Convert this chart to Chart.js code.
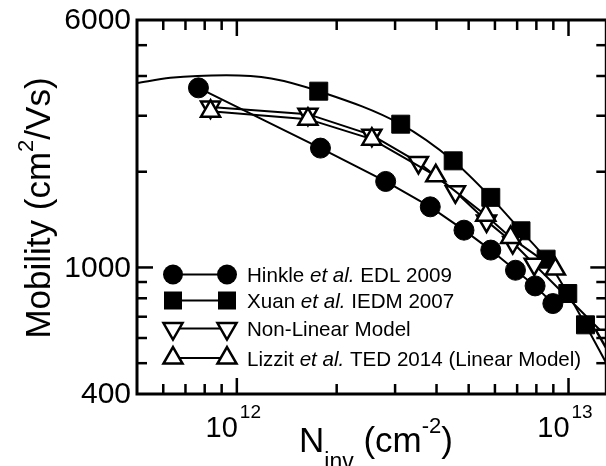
<!DOCTYPE html>
<html>
<head>
<meta charset="utf-8">
<script src="https://cdn.jsdelivr.net/npm/chart.js@4.4.1/dist/chart.umd.min.js"></script>
<style>
  html, body { margin: 0; padding: 0; background: #fff; overflow: hidden; }
  #wrap { width: 606px; height: 466px; overflow: hidden; }
</style>
</head>
<body>
<div id="wrap"><canvas id="mobChart" width="620" height="466"></canvas></div>
<script>
// Hinkle et al. EDL 2009 (filled circles)
const hinkleX = [7.66e11, 1.787e12, 2.81e12, 3.83e12, 4.84e12, 5.83e12, 6.92e12, 7.93e12, 8.97e12];
const hinkleY = [3671, 2373, 1864, 1551, 1310, 1134, 980, 875, 770];

// Xuan et al. IEDM 2007 (filled squares) and the smooth curve drawn through them
const xuanX = [1.766e12, 3.12e12, 4.49e12, 5.83e12, 7.19e12, 8.56e12, 9.95e12, 1.125e13];
const xuanY = [3584, 2822, 2164, 1661, 1304, 1062, 828, 660];
const xuanCurveX = [5.0e11, 6.3e11, 9.3e11, 1.27e12, 1.766e12, 3.12e12, 4.49e12, 5.83e12, 7.19e12, 8.56e12, 9.95e12, 1.125e13, 1.3e13];
const xuanCurveY = [3800, 3947, 4024, 3930, 3584, 2822, 2164, 1661, 1304, 1062, 828, 660, 500];

// Non-Linear Model (open down triangles)
const nonLinX = [8.33e11, 1.638e12, 2.553e12, 3.527e12, 4.56e12, 5.66e12, 6.79e12, 7.88e12, 1.29e13];
const nonLinY = [3193, 3034, 2606, 2139, 1729, 1401, 1198, 1024, 612];

// Lizzit et al. TED 2014, linear model (open up triangles)
const lizzitX = [8.33e11, 1.638e12, 2.553e12, 3.98e12, 5.63e12, 6.69e12, 9.13e12];
const lizzitY = [3101, 2927, 2532, 1941, 1460, 1243, 988];

// axis labels
const xLabelExps = [12, 13];
const yLabelVals = [400, 1000, 6000];

const FONT = '"Liberation Sans", Arial, Helvetica, sans-serif';

function toPoints(xs, ys) {
  return xs.map((x, i) => ({ x: x, y: ys[i] }));
}

// draw a list of text runs ({t, size, style, dy}) starting at x
function drawRuns(ctx, runs, x, y, align) {
  let total = 0;
  runs.forEach((r) => {
    ctx.font = (r.style || "") + " " + r.size + "px " + FONT;
    r.w = ctx.measureText(r.t).width;
    total += r.w;
  });
  let cx = x;
  if (align === "center") cx = x - total / 2;
  if (align === "right") cx = x - total;
  ctx.textAlign = "left";
  ctx.textBaseline = "alphabetic";
  runs.forEach((r) => {
    ctx.font = (r.style || "") + " " + r.size + "px " + FONT;
    ctx.fillText(r.t, cx, y + (r.dy || 0));
    cx += r.w;
  });
}

function drawMarker(ctx, kind, x, y) {
  ctx.save();
  ctx.lineWidth = 2.5;
  ctx.strokeStyle = "#000";
  ctx.beginPath();
  if (kind === "circle") {
    ctx.arc(x, y, 10, 0, Math.PI * 2);
    ctx.fillStyle = "#000";
    ctx.fill();
  } else if (kind === "square") {
    ctx.rect(x - 9, y - 9, 18, 18);
    ctx.fillStyle = "#000";
    ctx.fill();
  } else {
    const r = 11;
    const rot = kind === "down" ? Math.PI : 0;
    for (let k = 0; k < 3; k++) {
      const a = rot + (k * 2 * Math.PI) / 3;
      const px = x + Math.sin(a) * r;
      const py = y - Math.cos(a) * r;
      if (k === 0) ctx.moveTo(px, py);
      else ctx.lineTo(px, py);
    }
    ctx.closePath();
    ctx.fillStyle = "#fff";
    ctx.fill();
    ctx.stroke();
  }
  ctx.restore();
}

// frame, inward ticks on all four sides, tick labels, axis titles and the legend
const framePlugin = {
  id: "frame",
  afterDraw(chart) {
    const ctx = chart.ctx;
    const area = chart.chartArea;
    const xs = chart.scales.x;
    const ys = chart.scales.y;
    ctx.save();
    ctx.strokeStyle = "#000";
    ctx.fillStyle = "#000";
    ctx.lineWidth = 3;
    ctx.strokeRect(area.left, area.top, area.right - area.left, area.bottom - area.top);

    ctx.lineWidth = 2.5;
    const tick = (x1, y1, x2, y2) => {
      ctx.beginPath();
      ctx.moveTo(x1, y1);
      ctx.lineTo(x2, y2);
      ctx.stroke();
    };
    // x ticks
    for (let dec = 11; dec <= 13; dec++) {
      for (let m = 1; m <= 9; m++) {
        const v = m * Math.pow(10, dec);
        if (v <= xs.min || v >= xs.max) continue;
        const px = xs.getPixelForValue(v);
        const len = m === 1 ? 16 : 10;
        tick(px, area.bottom, px, area.bottom - len);
        tick(px, area.top, px, area.top + len);
      }
    }
    // y ticks
    for (let dec = 2; dec <= 3; dec++) {
      for (let m = 1; m <= 9; m++) {
        const v = m * Math.pow(10, dec);
        if (v <= ys.min || v >= ys.max) continue;
        const py = ys.getPixelForValue(v);
        const len = m === 1 ? 16 : 10;
        tick(area.left, py, area.left + len, py);
        tick(area.right, py, area.right - len, py);
      }
    }

    // y tick labels
    ctx.font = "30px " + FONT;
    ctx.textAlign = "right";
    ctx.textBaseline = "middle";
    yLabelVals.forEach((v) => {
      ctx.fillText(String(v), area.left - 6, ys.getPixelForValue(v) + 1);
    });

    // x tick labels as powers of ten
    xLabelExps.forEach((e) => {
      const px = xs.getPixelForValue(Math.pow(10, e));
      ctx.textBaseline = "alphabetic";
      ctx.font = "29px " + FONT;
      ctx.textAlign = "right";
      ctx.fillText("10", px + 1, 437);
      ctx.font = "19px " + FONT;
      ctx.textAlign = "left";
      ctx.fillText(String(e), px + 3, 418);
    });

    // x title
    drawRuns(ctx, [
      { t: "N", size: 35 },
      { t: "inv", size: 23, dy: 17 },
      { t: " (cm", size: 35 },
      { t: "-2", size: 22, dy: -19 },
      { t: ")", size: 35 },
    ], 299, 452, "left");

    // y title
    ctx.save();
    ctx.translate(50, 208);
    ctx.rotate(-Math.PI / 2);
    drawRuns(ctx, [
      { t: "Mobility (cm", size: 35 },
      { t: "2", size: 22, dy: -17 },
      { t: "/Vs)", size: 35 },
    ], 0, 0, "center");
    ctx.restore();

    // legend
    const rows = [
      { kind: "circle", y: 274.5, runs: [{ t: "Hinkle " }, { t: "et al.", style: "italic" }, { t: " EDL 2009" }] },
      { kind: "square", y: 300.5, runs: [{ t: "Xuan " }, { t: "et al.", style: "italic" }, { t: " IEDM 2007" }] },
      { kind: "down", y: 328.5, runs: [{ t: "Non-Linear Model" }] },
      { kind: "up", y: 358, runs: [{ t: "Lizzit " }, { t: "et al.", style: "italic" }, { t: " TED 2014 (Linear Model)" }] },
    ];
    rows.forEach((row) => {
      ctx.lineWidth = 2;
      tick(173, row.y, 227, row.y);
      drawMarker(ctx, row.kind, 173, row.y);
      drawMarker(ctx, row.kind, 227, row.y);
      ctx.fillStyle = "#000";
      drawRuns(ctx, row.runs.map((r) => ({ t: r.t, style: r.style, size: 20.6 })), 247, row.y + 7.5, "left");
    });
    ctx.restore();
  },
};

const lineBase = {
  showLine: true,
  borderColor: "#000",
  borderWidth: 2,
  pointBorderColor: "#000",
};

new Chart(document.getElementById("mobChart"), {
  type: "scatter",
  data: {
    datasets: [
      Object.assign({}, lineBase, {
        label: "Lizzit et al. TED 2014 (Linear Model)",
        data: toPoints(lizzitX, lizzitY),
        pointStyle: "triangle",
        pointRadius: 11,
        pointBorderWidth: 2.5,
        pointBackgroundColor: "#fff",
        order: 0,
      }),
      Object.assign({}, lineBase, {
        label: "Non-Linear Model",
        data: toPoints(nonLinX, nonLinY),
        pointStyle: "triangle",
        pointRotation: 180,
        pointRadius: 11,
        pointBorderWidth: 2.5,
        pointBackgroundColor: "#fff",
        order: 1,
      }),
      Object.assign({}, lineBase, {
        label: "Hinkle et al. EDL 2009",
        data: toPoints(hinkleX, hinkleY),
        pointStyle: "circle",
        pointRadius: 10,
        pointBorderWidth: 1,
        pointBackgroundColor: "#000",
        order: 2,
      }),
      Object.assign({}, lineBase, {
        label: "Xuan et al. IEDM 2007",
        data: toPoints(xuanX, xuanY),
        showLine: false,
        pointStyle: "rect",
        pointRadius: 12.7,
        pointBorderWidth: 1,
        pointBackgroundColor: "#000",
        order: 3,
      }),
      Object.assign({}, lineBase, {
        label: "Xuan fit",
        data: toPoints(xuanCurveX, xuanCurveY),
        pointRadius: 0,
        cubicInterpolationMode: "monotone",
        order: 4,
      }),
    ],
  },
  options: {
    responsive: false,
    animation: false,
    devicePixelRatio: 1,
    layout: { padding: { left: 137, top: 20, right: 6, bottom: 72 } },
    plugins: {
      legend: { display: false },
      tooltip: { enabled: false },
    },
    scales: {
      x: { type: "logarithmic", min: 5e11, max: 1.3e13, display: false },
      y: { type: "logarithmic", min: 400, max: 6000, display: false },
    },
  },
  plugins: [framePlugin],
});
</script>
</body>
</html>
